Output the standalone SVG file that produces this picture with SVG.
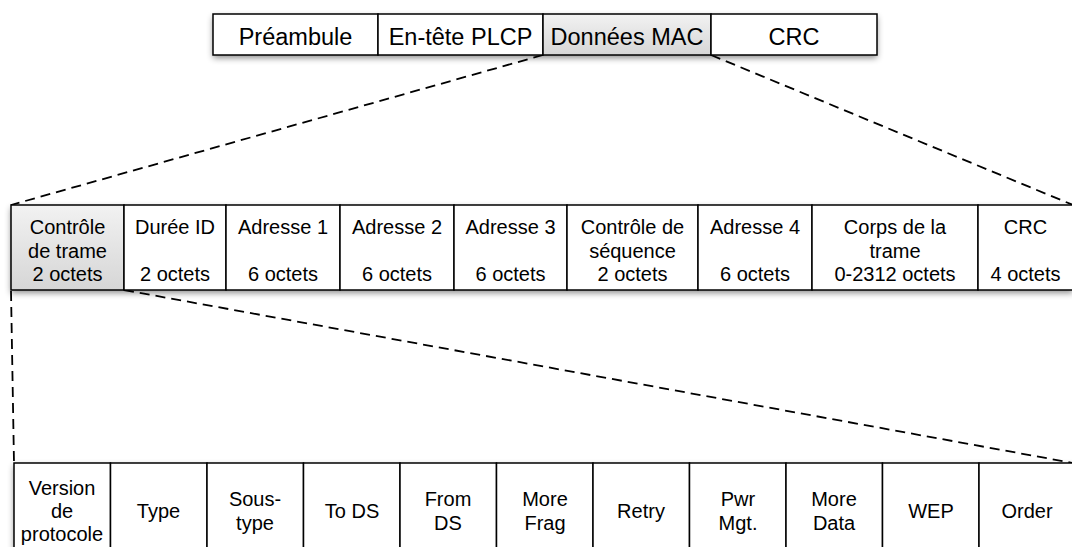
<svg xmlns="http://www.w3.org/2000/svg" width="1072" height="547" viewBox="0 0 1072 547">
<style>
.cell{fill:#fff;stroke:#000;stroke-width:1.5}
.gray{fill:url(#g)}
.t{font-family:"Liberation Sans",Arial,sans-serif;fill:#000;text-anchor:middle}
.t1{font-size:23.5px}
.t2{font-size:20px}
.dash{fill:none;stroke:#000;stroke-width:1.8;stroke-dasharray:10 6}
</style>
<defs>
<linearGradient id="g" x1="0" y1="0" x2="0" y2="1">
<stop offset="0" stop-color="#f2f2f2"/>
<stop offset="1" stop-color="#d6d6d6"/>
</linearGradient>
<filter id="sh" x="-5%" y="-20%" width="110%" height="160%">
<feDropShadow dx="0" dy="3" stdDeviation="3" flood-color="#000" flood-opacity="0.45"/>
</filter>
</defs>
<g id="connectors">
<line class="dash" x1="543" y1="55" x2="11" y2="205"/>
<line class="dash" x1="711" y1="55" x2="1073" y2="205"/>
<line class="dash" x1="11" y1="291" x2="14" y2="463"/>
<line class="dash" x1="124" y1="290" x2="1073" y2="463"/>
</g>
<g id="frame-top">
<rect x="213" y="14" width="664" height="41" fill="#fff" filter="url(#sh)"/>
<g id="top-preambule"><rect class="cell" x="213" y="14" width="165" height="41"/><text class="t t1" x="295.5" y="45">Préambule</text></g>
<g id="top-entete"><rect class="cell" x="378" y="14" width="165" height="41"/><text class="t t1" x="460.5" y="45">En-tête PLCP</text></g>
<g id="top-mac"><rect class="cell gray" x="543" y="14" width="168" height="41"/><text class="t t1" x="627" y="45">Données MAC</text></g>
<g id="top-crc"><rect class="cell" x="711" y="14" width="166" height="41"/><text class="t t1" x="794" y="45">CRC</text></g>
</g>
<g id="frame-mac">
<rect x="11" y="205" width="1062" height="85" fill="#fff" filter="url(#sh)"/>
<g id="m-ctrl"><rect class="cell gray" x="11" y="205" width="113" height="85"/><text class="t t2" x="67.5" y="234">Contrôle</text><text class="t t2" x="67.5" y="257.5">de trame</text><text class="t t2" x="67.5" y="281">2 octets</text></g>
<g id="m-duree"><rect class="cell" x="124" y="205" width="102" height="85"/><text class="t t2" x="175" y="234">Durée ID</text><text class="t t2" x="175" y="281">2 octets</text></g>
<g id="m-a1"><rect class="cell" x="226" y="205" width="114" height="85"/><text class="t t2" x="283" y="234">Adresse 1</text><text class="t t2" x="283" y="281">6 octets</text></g>
<g id="m-a2"><rect class="cell" x="340" y="205" width="114" height="85"/><text class="t t2" x="397" y="234">Adresse 2</text><text class="t t2" x="397" y="281">6 octets</text></g>
<g id="m-a3"><rect class="cell" x="454" y="205" width="113" height="85"/><text class="t t2" x="510.5" y="234">Adresse 3</text><text class="t t2" x="510.5" y="281">6 octets</text></g>
<g id="m-seq"><rect class="cell" x="567" y="205" width="131" height="85"/><text class="t t2" x="632.5" y="234">Contrôle de</text><text class="t t2" x="632.5" y="257.5">séquence</text><text class="t t2" x="632.5" y="281">2 octets</text></g>
<g id="m-a4"><rect class="cell" x="698" y="205" width="114" height="85"/><text class="t t2" x="755" y="234">Adresse 4</text><text class="t t2" x="755" y="281">6 octets</text></g>
<g id="m-corps"><rect class="cell" x="812" y="205" width="166" height="85"/><text class="t t2" x="895" y="234">Corps de la</text><text class="t t2" x="895" y="257.5">trame</text><text class="t t2" x="895" y="281">0-2312 octets</text></g>
<g id="m-crc"><rect class="cell" x="978" y="205" width="95" height="85"/><text class="t t2" x="1025.5" y="234">CRC</text><text class="t t2" x="1025.5" y="281">4 octets</text></g>
</g>
<g id="frame-ctrl">
<rect x="14" y="463" width="1062" height="92" fill="#fff" filter="url(#sh)"/>
<g id="c-version"><rect class="cell" x="14" y="463" width="96.5" height="92"/><text class="t t2" x="62" y="495">Version</text><text class="t t2" x="62" y="518">de</text><text class="t t2" x="62" y="541">protocole</text></g>
<g id="c-type"><rect class="cell" x="110.5" y="463" width="96.5" height="92"/><text class="t t2" x="158.5" y="518">Type</text></g>
<g id="c-soustype"><rect class="cell" x="207" y="463" width="96.5" height="92"/><text class="t t2" x="255" y="506">Sous-</text><text class="t t2" x="255" y="529.5">type</text></g>
<g id="c-tods"><rect class="cell" x="303.5" y="463" width="96.5" height="92"/><text class="t t2" x="352" y="518">To DS</text></g>
<g id="c-fromds"><rect class="cell" x="400" y="463" width="96.5" height="92"/><text class="t t2" x="448" y="506">From</text><text class="t t2" x="448" y="529.5">DS</text></g>
<g id="c-morefrag"><rect class="cell" x="496.5" y="463" width="96.5" height="92"/><text class="t t2" x="545" y="506">More</text><text class="t t2" x="545" y="529.5">Frag</text></g>
<g id="c-retry"><rect class="cell" x="593" y="463" width="96.5" height="92"/><text class="t t2" x="641" y="518">Retry</text></g>
<g id="c-pwr"><rect class="cell" x="689.5" y="463" width="96.5" height="92"/><text class="t t2" x="738" y="506">Pwr</text><text class="t t2" x="738" y="529.5">Mgt.</text></g>
<g id="c-moredata"><rect class="cell" x="786" y="463" width="96.5" height="92"/><text class="t t2" x="834" y="506">More</text><text class="t t2" x="834" y="529.5">Data</text></g>
<g id="c-wep"><rect class="cell" x="882.5" y="463" width="96.5" height="92"/><text class="t t2" x="931" y="518">WEP</text></g>
<g id="c-order"><rect class="cell" x="979" y="463" width="96.5" height="92"/><text class="t t2" x="1027" y="518">Order</text></g>
</g>
</svg>
